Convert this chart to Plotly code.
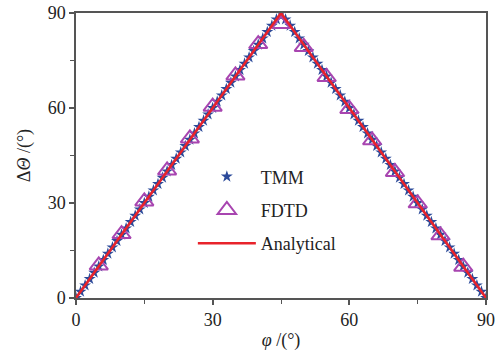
import plotly.graph_objects as go

# TMM results (1-degree sampling)
phi_tmm = [0, 1, 2, 3, 4, 5, 6, 7, 8, 9, 10, 11, 12, 13, 14, 15, 16, 17, 18, 19,
           20, 21, 22, 23, 24, 25, 26, 27, 28, 29, 30, 31, 32, 33, 34, 35, 36, 37, 38, 39,
           40, 41, 42, 43, 44, 45, 46, 47, 48, 49, 50, 51, 52, 53, 54, 55, 56, 57, 58, 59,
           60, 61, 62, 63, 64, 65, 66, 67, 68, 69, 70, 71, 72, 73, 74, 75, 76, 77, 78, 79,
           80, 81, 82, 83, 84, 85, 86, 87, 88, 89, 90]
dtheta_tmm = [0, 2, 4, 6, 8, 10, 12, 14, 16, 18, 20, 22, 24, 26, 28, 30, 32, 34, 36, 38,
              40, 42, 44, 46, 48, 50, 52, 54, 56, 58, 60, 62, 64, 66, 68, 70, 72, 74, 76, 78,
              80, 82, 84, 86, 88, 90, 88, 86, 84, 82, 80, 78, 76, 74, 72, 70, 68, 66, 64, 62,
              60, 58, 56, 54, 52, 50, 48, 46, 44, 42, 40, 38, 36, 34, 32, 30, 28, 26, 24, 22,
              20, 18, 16, 14, 12, 10, 8, 6, 4, 2, 0]

# FDTD results (5-degree sampling)
phi_fdtd = [5, 10, 15, 20, 25, 30, 35, 40, 45, 50, 55, 60, 65, 70, 75, 80, 85]
dtheta_fdtd = [10.3, 20.2, 30.5, 40.3, 50.4, 60.4, 70.3, 80.2, 86.5,
               79.3, 69.8, 59.7, 49.8, 39.8, 29.9, 19.8, 9.9]

# Analytical curve
phi_ana = [0, 45, 90]
dtheta_ana = [0, 90, 0]

serif = "Liberation Serif"
txt = "#222222"
axc = "#555555"

fig = go.Figure()
fig.add_trace(go.Scatter(
    x=phi_tmm, y=dtheta_tmm, mode="markers", name="TMM", legendgroup="tmm",
    marker=dict(symbol="star", size=9, color="#2b4a9a", line=dict(width=0)),
))
fig.add_trace(go.Scatter(
    x=phi_fdtd, y=dtheta_fdtd, mode="markers", name="FDTD", legendgroup="fdtd",
    marker=dict(symbol="triangle-up-open", size=16, color="#a845b0",
                line=dict(width=2, color="#a845b0")),
))
fig.add_trace(go.Scatter(
    x=phi_ana, y=dtheta_ana, mode="lines", name="Analytical", legendgroup="ana",
    line=dict(color="#e8232b", width=2.5),
))

axis_common = dict(
    range=[0, 90], tickvals=[0, 30, 60, 90], automargin=False,
    showline=True, linecolor=axc, linewidth=1.5, mirror=True,
    ticks="outside", ticklen=5, tickcolor=axc, tickwidth=1.5,
    minor=dict(dtick=15, ticks="outside", ticklen=4, tickcolor=axc, tickwidth=1.2),
    showgrid=False, zeroline=False,
    tickfont=dict(family=serif, size=18, color=txt),
)

fig.update_layout(
    width=497, height=357,
    margin=dict(l=76, r=11, t=13, b=59),
    paper_bgcolor="white", plot_bgcolor="white",
    xaxis=dict(**axis_common,
               title=dict(text="<i>φ</i> /(°)", font=dict(family=serif, size=18, color=txt),
                          standoff=4)),
    yaxis=dict(**axis_common,
               title=dict(text="Δ<i>Θ</i> /(°)", font=dict(family=serif, size=18, color=txt),
                          standoff=12)),
    legend=dict(x=0.285, y=0.49, xanchor="left", yanchor="top",
                bgcolor="rgba(0,0,0,0)", itemwidth=58,
                font=dict(family=serif, size=18, color=txt),
                tracegroupgap=7),
    showlegend=True,
)

fig.write_html("out.html")
